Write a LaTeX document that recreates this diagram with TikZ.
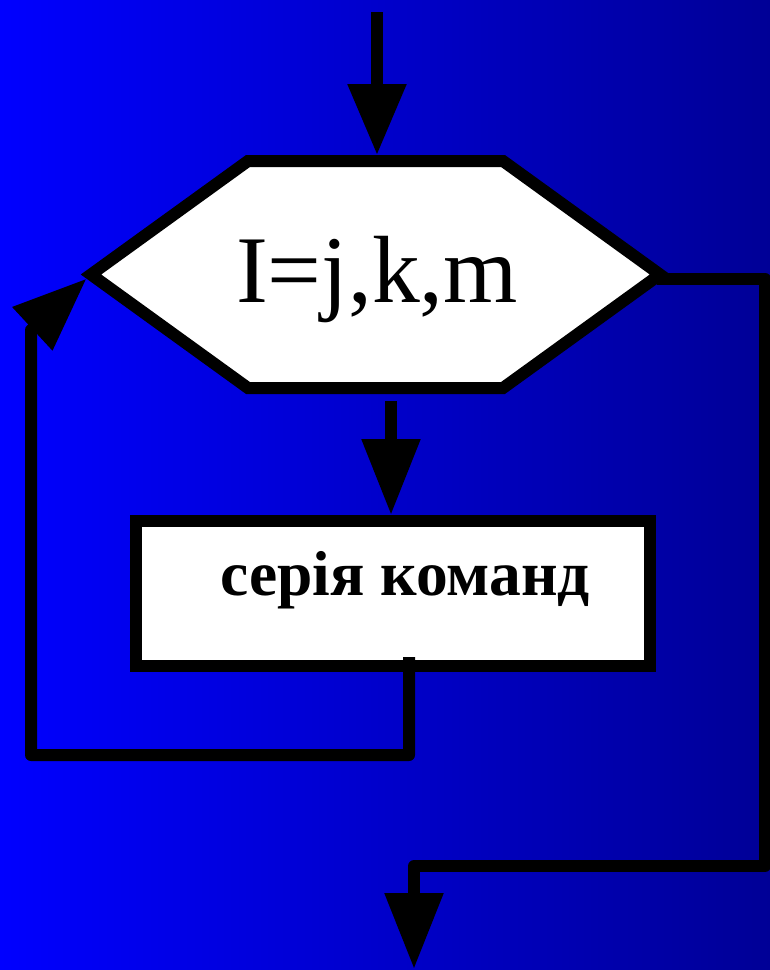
\documentclass[tikz,border=0pt]{standalone}
\usepackage{fontspec}
\setmainfont{Liberation Serif}
\usetikzlibrary{arrows.meta}
\definecolor{bgl}{RGB}{0,0,255}
\definecolor{bgr}{RGB}{0,0,150}
\begin{document}
\begin{tikzpicture}[x=1pt,y=-1pt,
  flow/.style={draw=black, line width=12pt, line join=round},
  arrowtip/.style={-{Triangle[length=#1,width=56pt]}},
  shapebox/.style={inner sep=0pt, outer sep=0pt},
  outline/.style={draw=black, fill=white, line width=12pt, line join=miter},
  label/.style={anchor=base, inner sep=0pt, text=black}
]
\shade[left color=bgl, right color=bgr] (0,0) rectangle (770,970);
\useasboundingbox (0,0) rectangle (770,970);

% decision hexagon
\node[shapebox, minimum width=569pt, minimum height=227pt] (hex) at (375.5,274.5) {};
\draw[outline] (hex.west) -- ([xshift=157pt]hex.north west) -- ([xshift=-157pt]hex.north east)
  -- (hex.east) -- ([xshift=-157pt]hex.south east) -- ([xshift=157pt]hex.south west) -- cycle;
\node[label, font=\fontsize{95.5}{96}\selectfont] (hexlabel) at (377,302) {I=j,k,m};

% process box
\node[shapebox, outline, minimum width=514pt, minimum height=145pt] (rect) at (393,593.5) {};
\node[label, font=\bfseries\fontsize{63.5}{64}\selectfont] (rectlabel) at (405,595) {серія команд};

% connectors
\coordinate (in) at (377,12);
\coordinate (out) at (414,969);
\draw[flow, arrowtip=71pt, shorten >=6pt] (in) -- (in |- hex.north);
\draw[flow, arrowtip=76pt, shorten <=13pt, shorten >=6pt]
  ([xshift=15.5pt]hex.south) -- ([xshift=15.5pt]hex.south |- rect.north);
\draw[flow, arrowtip=74pt, shorten >=6pt]
  ([xshift=16pt,yshift=9pt]rect.south) -- ++(0,98) -| (31,330) -- (hex.west);
\draw[flow, arrowtip=76pt]
  ([xshift=-3pt,yshift=-4pt]hex.east) -- ++(108,0) -- ++(0,587.5) -| (out);
\end{tikzpicture}
\end{document}
